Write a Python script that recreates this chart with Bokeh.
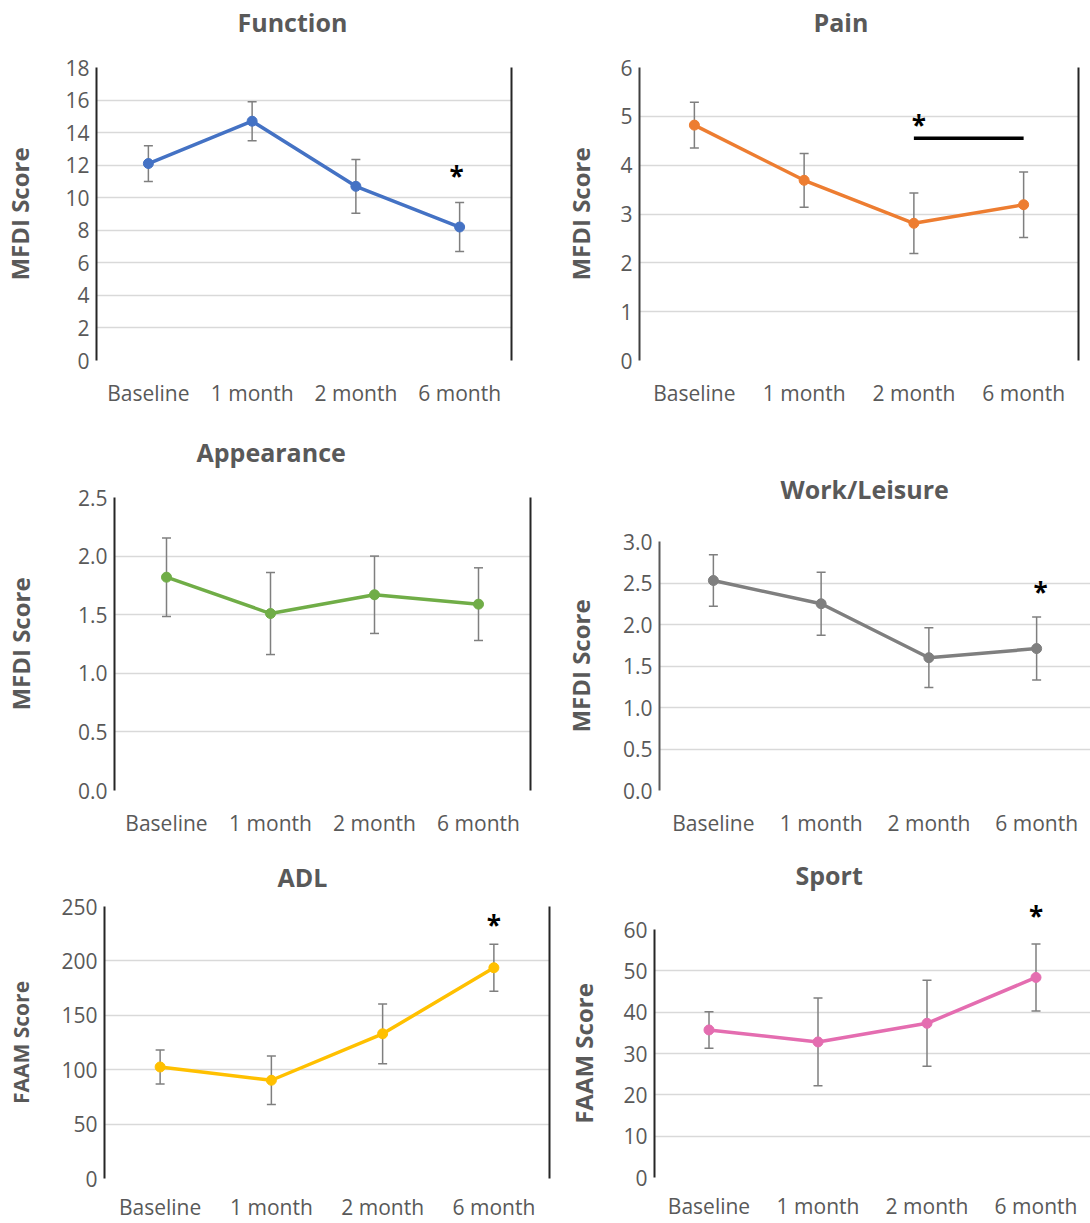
from bokeh.plotting import figure
from bokeh.layouts import row, column
from bokeh.models import (FactorRange, Range1d, FixedTicker, LinearAxis, Whisker, TeeHead,
                          ColumnDataSource, Label, NumeralTickFormatter, Title,
                          PrintfTickFormatter)
from bokeh.embed import file_html
from bokeh.resources import INLINE

# ---------------- data ----------------
categories = ["Baseline", "1 month", "2 month", "6 month"]

function_mean = [12.1, 14.7, 10.7, 8.2]
function_err = [1.1, 1.2, 1.65, 1.5]
function_yticks = [0, 2, 4, 6, 8, 10, 12, 14, 16, 18]

pain_mean = [4.82, 3.69, 2.81, 3.19]
pain_err = [0.47, 0.55, 0.62, 0.67]
pain_yticks = [0, 1, 2, 3, 4, 5, 6]
pain_sig_from, pain_sig_to, pain_sig_level = "2 month", "6 month", 4.55

appearance_mean = [1.82, 1.51, 1.67, 1.59]
appearance_err = [0.335, 0.35, 0.33, 0.31]
appearance_yticks = [0.0, 0.5, 1.0, 1.5, 2.0, 2.5]

work_mean = [2.53, 2.25, 1.60, 1.71]
work_err = [0.31, 0.38, 0.36, 0.38]
work_yticks = [0.0, 0.5, 1.0, 1.5, 2.0, 2.5, 3.0]

adl_mean = [102.5, 90.3, 133.0, 193.7]
adl_err = [15.6, 22.3, 27.5, 21.7]
adl_yticks = [0, 50, 100, 150, 200, 250]

sport_mean = [35.7, 32.8, 37.3, 48.4]
sport_err = [4.4, 10.6, 10.4, 8.1]
sport_yticks = [0, 10, 20, 30, 40, 50, 60]

FONT = "Open Sans"
TXT = "#595959"


def cat_x(name):
    # synthetic coordinate of a factor's centre on a FactorRange
    return categories.index(name) + 0.5


def panel(title, ylabel, mean, err, yticks, color, fmt, star, lay):
    ymax = yticks[-1]
    p = figure(x_range=FactorRange(factors=categories), y_range=Range1d(0, ymax),
               width=lay["w"], height=lay["h"],
               min_border_left=lay["l"], min_border_right=lay["r"],
               min_border_top=lay["t"], min_border_bottom=lay["b"],
               output_backend="svg", toolbar_location=None, tools="")
    p.outline_line_color = None
    p.background_fill_color = "white"
    p.border_fill_color = "white"
    p.xgrid.grid_line_color = None
    p.ygrid.grid_line_color = "#d9d9d9"
    p.ygrid.grid_line_width = 1.3

    yax = p.yaxis[0]
    yax.ticker = FixedTicker(ticks=yticks)
    if fmt:
        yax.formatter = NumeralTickFormatter(format=fmt)
    yax.axis_line_color = lay.get("axc", "#262626")
    yax.axis_line_width = 2
    yax.major_tick_line_color = None
    yax.minor_tick_line_color = None
    yax.major_tick_out = 0
    yax.major_tick_in = 0
    yax.major_label_standoff = 7
    yax.major_label_text_font = FONT
    yax.major_label_text_font_size = "21px"
    yax.major_label_text_color = TXT
    yax.axis_label = ylabel
    yax.axis_label_text_font = FONT
    yax.axis_label_text_font_style = "bold"
    yax.axis_label_text_font_size = lay.get("yls", "24px")
    yax.axis_label_text_color = TXT
    yax.axis_label_standoff = int(lay["ys"])

    xax = p.xaxis[0]
    xax.axis_line_color = None
    xax.major_tick_line_color = None
    xax.minor_tick_line_color = None
    xax.major_tick_out = 0
    xax.major_tick_in = 0
    xax.major_label_standoff = int(lay.get("xs", 18))
    xax.major_label_text_font = FONT
    xax.major_label_text_font_size = "21px"
    xax.major_label_text_color = TXT

    if lay["border"]:
        rax = LinearAxis(ticker=FixedTicker(ticks=[]), axis_line_color="#262626",
                         axis_line_width=2, major_tick_line_color=None,
                         minor_tick_line_color=None, major_tick_out=0, major_tick_in=0,
                         major_label_standoff=0)
        p.add_layout(rax, "right")

    # top strip: carries an above-frame significance star, or is a blank spacer
    top_star = lay.get("top_star")
    if top_star is not None:
        sp = LinearAxis(ticker=FixedTicker(ticks=[cat_x(top_star)]),
                        formatter=PrintfTickFormatter(format="*"),
                        axis_line_color=None, major_tick_line_color=None,
                        minor_tick_line_color=None, major_tick_out=0, major_tick_in=0,
                        major_label_standoff=lay["st_off"], major_label_text_font=FONT,
                        major_label_text_font_style="bold",
                        major_label_text_font_size="26px", major_label_text_color="black")
    else:
        sp = LinearAxis(ticker=FixedTicker(ticks=[cat_x("Baseline")]),
                        formatter=PrintfTickFormatter(format=""),
                        axis_line_color=None, major_tick_line_color="white",
                        major_tick_line_width=1, minor_tick_line_color=None,
                        major_tick_out=lay["A"], major_tick_in=0, major_label_standoff=0,
                        major_label_text_font_size="1px")
    p.add_layout(sp, "above")
    p.add_layout(Title(text=title, align="left", offset=lay["tx"], vertical_align="bottom",
                       standoff=lay.get("ts", 0), text_font=FONT, text_font_style="bold",
                       text_font_size="25px", text_color=TXT), "above")

    src = ColumnDataSource(dict(x=categories, y=mean,
                                upper=[m + e for m, e in zip(mean, err)],
                                lower=[m - e for m, e in zip(mean, err)]))
    wcol = "#7f7f7f"
    p.add_layout(Whisker(source=src, base="x", upper="upper", lower="lower",
                         line_color=wcol, line_width=1.5,
                         upper_head=TeeHead(size=9, line_color=wcol, line_width=1.5),
                         lower_head=TeeHead(size=9, line_color=wcol, line_width=1.5)))
    p.line("x", "y", source=src, line_width=3.5, color=color)
    p.scatter("x", "y", source=src, size=10, color=color)

    if star is not None:
        fx, off, sy = star
        p.add_layout(Label(x=cat_x(fx), y=sy, x_offset=off, text="*", text_align="center",
                           text_baseline="middle", text_font=FONT, text_font_style="bold",
                           text_font_size="26px", text_color="black"))
    return p


f1 = panel("Function", "MFDI Score", function_mean, function_err, function_yticks, "#4472C4", None,
           ("6 month", -3, 11.32),
           dict(w=545, h=420, l=92, r=34, t=67, b=60, ys=26, tx=141, A=29, border=True))
f2 = panel("Pain", "MFDI Score", pain_mean, pain_err, pain_yticks, "#ED7D31", None,
           (pain_sig_from, 5, 4.82),
           dict(w=545, h=420, l=94, r=12, t=67, b=60, ys=20, tx=174, A=29, border=True,
                axc="#404040"))
f2.segment(x0=[pain_sig_from], y0=[pain_sig_level], x1=[pain_sig_to], y1=[pain_sig_level],
           line_width=3.5, color="black")
f3 = panel("Appearance", "MFDI Score", appearance_mean, appearance_err, appearance_yticks,
           "#70AD47", "0.0", None,
           dict(w=545, h=430, l=110, r=15, t=77, b=60, ys=38, tx=82, A=29, border=True))
f4 = panel("Work/Leisure", "MFDI Score", work_mean, work_err, work_yticks, "#7F7F7F", "0.0",
           ("6 month", 4, 2.39),
           dict(w=545, h=430, l=114, r=0, t=121, b=60, ys=23, tx=121, A=36, border=False,
                axc="#595959"))
f5 = panel("ADL", "FAAM Score", adl_mean, adl_err, adl_yticks, "#FFC000", None,
           ("6 month", 0, 233.0),
           dict(w=552, h=373, l=104, r=3, t=56, b=45, ys=23, tx=173, A=13, border=True,
                yls="21px", xs=14))
f6 = panel("Sport", "FAAM Score", sport_mean, sport_err, sport_yticks, "#E46DB0", None,
           None,
           dict(w=538, h=373, l=102, r=0, t=79, b=46, ys=20, tx=141, border=False,
                xs=14, top_star="6 month", st_off=-4, ts=6))

layout = column(row(column(f1), column(f2)),
                row(column(f3), column(f4)),
                row(column(f5), column(f6)))

open("out.html", "w").write(file_html(layout, INLINE))
